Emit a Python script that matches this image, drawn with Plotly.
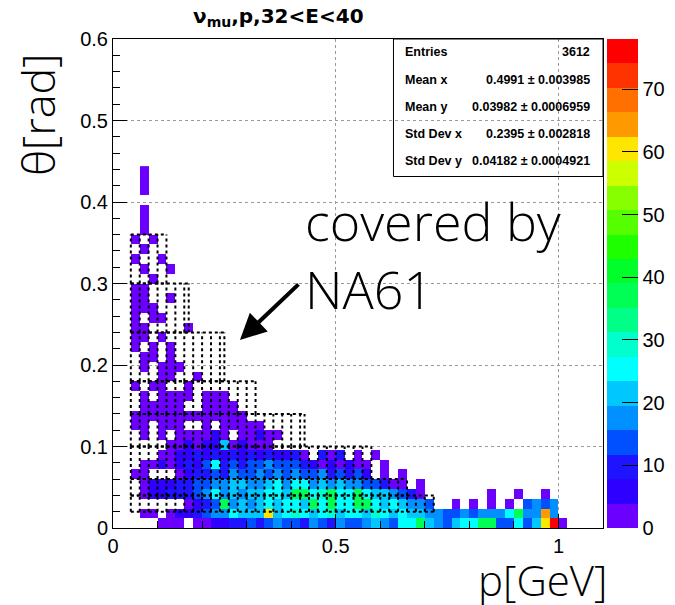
import plotly.graph_objects as go

# ---------------- data ----------------
# 2D histogram: p bins of 0.02 GeV from 0, theta bins of 0.012 rad from 0.
P_START, P_WIDTH = 0.0, 0.02
T_START, T_WIDTH = 0.0, 0.012
N_P_BINS = 55

# colour level of each cell, row j = theta bin (bottom row first), char i = p bin
# '.' empty, '0'..'9','a'..'j' = palette level 0..19
LEVEL_CODES = "0123456789abcdefghij"
level_counts = [2, 6, 10, 14, 18, 21, 25, 29, 33, 37, 41, 45, 49, 53, 57, 60, 64, 68, 72, 76]

cell_rows = [
    ".....000.0" "0112232343" "3243243345" "4366954356" "69933635fj0",    # j0
    "...00.0112" "3446555f56" "7656756657" "6565544334" "34446944g4",     # j1
    "........01" "2394545656" "6596966996" "565443..0." "0.0.0.3434",     # j2
    "...0112223" "4645455665" "9967966965" "54320....." "..0..0..0",      # j3
    "...0111223" "3445544564" "6645454433" "200.0",                       # j4
    "..00...012" "2324334343" "433423231." "0.0",                         # j5
    "...0010121" "3623233433" "321010100." "0",                           # j6
    ".....00112" "1212121211" "20.202.0.0",                               # j7
    "......0010" "11501000",                                              # j8
    "...0.0.000" "010.00100",                                             # j9
    "..00.000.." "0.00000",                                               # j10
    "..00000000" "00000",                                                 # j11
    "...00000.." "0000",                                                  # j12
    "...0.0000." "000",                                                   # j13
    "..0.00..0",                                                          # j14
    ".....00..0",                                                         # j15
    "...0.000",                                                           # j16
    "...00.0",                                                            # j17
    "..0.0.0",                                                            # j18
    "..00.0",                                                             # j19
    "..00....0",                                                          # j20
    "..0.00",                                                             # j21
    "..000",                                                              # j22
    "..00..0",                                                            # j23
    "..00",                                                               # j24
    "....0",                                                              # j25
    "...0..0",                                                            # j26
    "..0..0",                                                             # j27
    "...0",                                                               # j28
    "..0.0",                                                              # j29
    "...0",                                                               # j30
    "...0",                                                               # j31
    "...0",                                                               # j32
    "",                                                                   # j33
    "...0",                                                               # j34
    "...0",                                                               # j35
    "...0",                                                               # j36
]

palette = [
    "#6b00ff", "#2e00ff", "#1e14ff", "#0050ff", "#0090ff",
    "#00c8ff", "#00ffff", "#00ffcc", "#00ff88", "#00ff55",
    "#00ff2a", "#1eff00", "#55ff00", "#88ff00", "#ccff00",
    "#ffe600", "#ff9900", "#ff7000", "#ff3300", "#ff0000",
]
Z_MIN, Z_MAX = 0, 78
colorbar_ticks = [0, 10, 20, 30, 40, 50, 60, 70]

# NA61 coverage bands (theta edges, p range of each band)
na61_theta_edges = [0.02, 0.04, 0.06, 0.10, 0.14, 0.18, 0.24, 0.30, 0.36]
na61_p_min = 0.04
na61_p_max = [0.72, 0.66, 0.58, 0.43, 0.32, 0.25, 0.17, 0.12]
na61_p_step = 0.02

title_text = "<b>ν<sub>mu</sub>,p,32&lt;E&lt;40</b>"
stats_labels = ["Entries", "Mean x", "Mean y", "Std Dev x", "Std Dev y"]
stats_values = ["3612", "0.4991 ± 0.003985", "0.03982 ± 0.0006959",
                "0.2395 ± 0.002818", "0.04182 ± 0.0004921"]

# ---------------- build ----------------
z = []
for row in cell_rows:
    row = row.ljust(N_P_BINS, ".")
    z.append([None if c == "." else level_counts[LEVEL_CODES.index(c)] for c in row])

n_lev = len(palette)
colorscale = []
for k, col in enumerate(palette):
    colorscale.append([k / n_lev, col])
    colorscale.append([(k + 1) / n_lev, col])

fig = go.Figure()
fig.add_trace(go.Heatmap(
    z=z, x0=P_START + P_WIDTH / 2, dx=P_WIDTH, y0=T_START + T_WIDTH / 2, dy=T_WIDTH,
    zmin=Z_MIN, zmax=Z_MAX, colorscale=colorscale, hoverinfo="skip",
    colorbar=dict(
        x=1.008, xanchor="left", xpad=0, ypad=0, y=0, yanchor="bottom",
        len=1, lenmode="fraction", thickness=31, outlinewidth=0,
        tickvals=colorbar_ticks, ticks="inside", ticklen=16, tickcolor="black",
        tickwidth=1,
        tickfont=dict(family="Liberation Sans, Arial", size=20, color="black"),
    ),
))

# NA61 dotted boxes
lx, ly = [], []
for b, pmax in enumerate(na61_p_max):
    lo, hi = na61_theta_edges[b], na61_theta_edges[b + 1]
    for t in (lo, hi):
        lx += [na61_p_min, pmax, None]
        ly += [t, t, None]
    p = na61_p_min
    while p < pmax - 1e-9:
        lx += [p, p, None]
        ly += [lo, hi, None]
        p += na61_p_step
    lx += [pmax, pmax, None]
    ly += [lo, hi, None]
fig.add_trace(go.Scatter(x=lx, y=ly, mode="lines", hoverinfo="skip",
                         line=dict(color="black", width=2, dash="3px,3px"),
                         showlegend=False))

tickfont = dict(family="Liberation Sans, Arial", size=20, color="black")
fig.update_xaxes(
    range=[0, 1.1], tickvals=[0, 0.5, 1], ticktext=["0", "0.5", "1"],
    ticks="inside", ticklen=14, tickcolor="black", tickfont=tickfont,
    minor=dict(dtick=0.1, ticks="inside", ticklen=7, tickcolor="black", showgrid=False),
    showgrid=True, gridcolor="#9a9a9a", griddash="dot", gridwidth=1,
    zeroline=False, showline=True, mirror=True, linecolor="black", linewidth=1,
)
fig.update_yaxes(
    range=[0, 0.6], dtick=0.1, tick0=0,
    ticks="inside", ticklen=14, tickcolor="black", tickfont=tickfont,
    minor=dict(dtick=0.02, ticks="inside", ticklen=7, tickcolor="black", showgrid=False),
    showgrid=True, gridcolor="#9a9a9a", griddash="dot", gridwidth=1,
    zeroline=False, showline=True, mirror=True, linecolor="black", linewidth=1,
)

light_family = "Open Sans, Roboto, Liberation Sans"
ann = []
ann.append(dict(text=title_text, xref="paper", yref="paper", x=0.337, y=1.046,
                xanchor="center", yanchor="middle", showarrow=False,
                font=dict(family="DejaVu Sans, Liberation Sans", size=20, color="black")))
ann.append(dict(text="θ[rad]", xref="paper", yref="paper", x=-0.153, y=0.845,
                xanchor="center", yanchor="middle", textangle=-90, showarrow=False,
                font=dict(family=light_family, size=45, color="black", weight=300)))
ann.append(dict(text="p[GeV]", xref="paper", yref="paper", x=0.877, y=-0.1045,
                xanchor="center", yanchor="middle", showarrow=False,
                font=dict(family=light_family, size=42, color="black", weight=300)))
ann.append(dict(text="covered by<br>NA61", xref="paper", yref="paper", x=0.388, y=0.705,
                xanchor="left", yanchor="top", align="left", showarrow=False,
                font=dict(family=light_family, size=52, color="black", weight=300)))
ann.append(dict(text="", x=0.285, y=0.2307, xref="x", yref="y", ax=60, ay=-57,
                showarrow=True, arrowhead=2, arrowsize=1.3, arrowwidth=4,
                arrowcolor="black"))
stat_font = dict(family="Liberation Sans, Arial", size=12.5, color="black")
for k, (lab, val) in enumerate(zip(stats_labels, stats_values)):
    yc = (528 - (52.5 + 27.2 * k)) / 489
    ann.append(dict(text="<b>" + lab + "</b>", xref="paper", yref="paper", x=0.5918, y=yc,
                    xanchor="left", yanchor="middle", showarrow=False, font=stat_font))
    ann.append(dict(text="<b>" + val + "</b>", xref="paper", yref="paper", x=0.9776, y=yc,
                    xanchor="right", yanchor="middle", showarrow=False, font=stat_font))

fig.update_layout(
    width=675, height=605, autosize=False,
    margin=dict(l=113, r=72, t=39, b=77, pad=0, autoexpand=False),
    plot_bgcolor="white", paper_bgcolor="white",
    showlegend=False, annotations=ann,
    shapes=[dict(type="rect", xref="paper", yref="paper", x0=0.5724, x1=1.0,
                 y0=0.7188, y1=1.0, line=dict(color="black", width=1),
                 fillcolor="rgba(0,0,0,0)", layer="above")],
)

fig.write_html("out.html")
